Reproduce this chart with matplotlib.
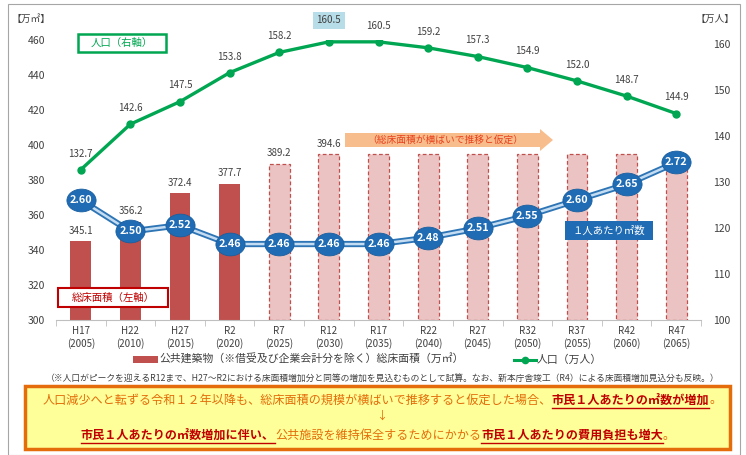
import matplotlib
matplotlib.use("Agg")
import matplotlib.pyplot as plt
import numpy as np
from matplotlib.patches import Rectangle, Polygon
from matplotlib.lines import Line2D
from matplotlib.path import Path
from matplotlib.markers import MarkerStyle

plt.rcParams['font.family'] = ['Noto Sans CJK JP', 'DejaVu Sans']

# ---------------- data ----------------
categories = ["H17\n(2005)", "H22\n(2010)", "H27\n(2015)", "R2\n(2020)", "R7\n(2025)",
              "R12\n(2030)", "R17\n(2035)", "R22\n(2040)", "R27\n(2045)", "R32\n(2050)",
              "R37\n(2055)", "R42\n(2060)", "R47\n(2065)"]
floor_area = [345.1, 356.2, 372.4, 377.7, 389.2, 394.6, 394.6, 394.6, 394.6, 394.6, 394.6, 394.6, 394.6]
floor_labels = ["345.1", "356.2", "372.4", "377.7", "389.2", "394.6", "", "", "", "", "", "", ""]
n_actual = 4
population = [132.7, 142.6, 147.5, 153.8, 158.2, 160.5, 160.5, 159.2, 157.3, 154.9, 152.0, 148.7, 144.9]
per_capita = [2.60, 2.50, 2.52, 2.46, 2.46, 2.46, 2.46, 2.48, 2.51, 2.55, 2.60, 2.65, 2.72]
left_ticks = [300, 320, 340, 360, 380, 400, 420, 440, 460]
right_ticks = [100, 110, 120, 130, 140, 150, 160]

W, H = 746, 455
fig = plt.figure(figsize=(W / 100, H / 100), dpi=100)

def fx(px):
    return px / W

def fy(py):
    return 1 - py / H

TXT = '#404040'
RED = '#C0504D'
PINK = '#EBC3C2'
GREEN = '#00A651'
BLUE = '#1F6CB4'

ax = fig.add_axes([fx(56), fy(320), fx(701) - fx(56), fy(40) - fy(320)])
ax.set_xlim(-0.5, 12.5)
ax.set_ylim(300, 460)
x = np.arange(len(categories))

# bars
bw = 0.42
for i, v in enumerate(floor_area):
    if i < n_actual:
        ax.bar(x[i], v - 300, bottom=300, width=bw, color=RED, zorder=2)
    else:
        ax.bar(x[i], v - 300, bottom=300, width=bw, color=PINK, edgecolor=RED,
               linewidth=0.9, linestyle=(0, (3, 2)), zorder=2)
    if floor_labels[i]:
        ax.annotate(floor_labels[i], (x[i], v), xytext=(0, 4), textcoords='offset points',
                    ha='center', va='bottom', fontsize=7, color=TXT)

for s in ['top', 'left', 'right']:
    ax.spines[s].set_visible(False)
ax.spines['bottom'].set_color('#BFBFBF')
ax.set_yticks(left_ticks)
ax.set_yticklabels([str(t) for t in left_ticks], fontsize=7.5, color=TXT)
ax.tick_params(axis='y', length=0, pad=8)
ax.set_xticks(x)
ax.set_xticklabels(categories, fontsize=7, color=TXT, linespacing=1.3)
ax.tick_params(axis='x', length=0, pad=4)
ax.set_xticks(np.arange(-0.5, 13, 1), minor=True)
ax.tick_params(axis='x', which='minor', length=4, color='#BFBFBF', direction='out')

# population axis
ax2 = ax.twinx()
ax2.set_ylim(100, 160.9)
for s in ['top', 'left', 'right', 'bottom']:
    ax2.spines[s].set_visible(False)
ax2.set_yticks(right_ticks)
ax2.set_yticklabels([str(t) for t in right_ticks], fontsize=7.5, color=TXT)
ax2.tick_params(axis='y', length=0, pad=9)
ax2.plot(x, population, color=GREEN, lw=2.4, marker='o', markersize=5, zorder=3)
for i, v in enumerate(population):
    if i == 5:
        ax2.annotate(f"{v:.1f}", (x[i], v), xytext=(0, 12), textcoords='offset points',
                     ha='center', va='bottom', fontsize=7, color=TXT,
                     bbox=dict(boxstyle='square,pad=0.35', fc='#B7DDE8', ec='none'),
                     annotation_clip=False)
    else:
        ax2.annotate(f"{v:.1f}", (x[i], v), xytext=(0, 8), textcoords='offset points',
                     ha='center', va='bottom', fontsize=7, color=TXT, annotation_clip=False)

# per-capita hidden axis
ax3 = ax.twinx()
ax3.set_ylim(2.218, 3.110)
ax3.axis('off')
ax3.plot(x, per_capita, color='#2E75B6', lw=4.5, zorder=3, solid_capstyle='round')
ax3.plot(x, per_capita, color='#C5DDF2', lw=1.8, zorder=4)
circ = Path.unit_circle()
ell = Path(circ.vertices * np.array([1.0, 0.78]), circ.codes)
ax3.plot(x, per_capita, linestyle='none', marker=MarkerStyle(ell), markersize=21,
         markerfacecolor=BLUE, markeredgecolor='#1A5FA0', markeredgewidth=0.6, zorder=5)
for i, v in enumerate(per_capita):
    ax3.text(x[i], v, f"{v:.2f}", ha='center', va='center', fontsize=7.8,
             color='white', fontweight='bold', zorder=6)

# ---------- annotations in figure pixel space ----------
fig.text(fx(12), fy(19), "【万㎡】", fontsize=7, color=TXT, va='center', ha='left')
fig.text(fx(696), fy(19), "【万人】", fontsize=7, color=TXT, va='center', ha='left')

fig.patches.append(Rectangle((fx(78), fy(52)), fx(166) - fx(78), fy(34) - fy(52),
                             transform=fig.transFigure, fill=False, ec=GREEN, lw=1.8))
fig.text(fx(122), fy(43), "人口（右軸）", fontsize=7.5, color=GREEN, ha='center', va='center')

fig.patches.append(Rectangle((fx(58), fy(307)), fx(168) - fx(58), fy(288) - fy(307),
                             transform=fig.transFigure, fc='white', ec='#C00000', lw=1.5, zorder=5))
fig.text(fx(113), fy(297.5), "総床面積（左軸）", fontsize=7.5, color='#C00000', ha='center',
         va='center', zorder=6)

fig.patches.append(Rectangle((fx(565), fy(240)), fx(653) - fx(565), fy(221) - fy(240),
                             transform=fig.transFigure, fc=BLUE, ec='none', zorder=5))
fig.text(fx(609), fy(230.5), "１人あたり㎡数", fontsize=7.5, color='white', ha='center',
         va='center', zorder=6)

arrow_pts = [(345, 133), (540, 133), (540, 129), (553, 140), (540, 151), (540, 147), (345, 147)]
fig.patches.append(Polygon([(fx(a), fy(b)) for a, b in arrow_pts], closed=True,
                           transform=fig.transFigure, fc='#F8BD8C', ec='none', zorder=1))
fig.text(fx(445), fy(140), "（総床面積が横ばいで推移と仮定）", fontsize=7, color='#E8401C',
         ha='center', va='center', zorder=2)

# legend
fig.patches.append(Rectangle((fx(133), fy(363)), fx(158) - fx(133), fy(356) - fy(363),
                             transform=fig.transFigure, fc=RED, ec='none'))
fig.text(fx(159), fy(359.5), "公共建築物（※借受及び企業会計分を除く）総床面積（万㎡）",
         fontsize=7.8, color=TXT, va='center', ha='left')
fig.lines.append(Line2D([fx(514), fx(536)], [fy(359.5), fy(359.5)], transform=fig.transFigure,
                        color=GREEN, lw=2.2, marker=None))
fig.lines.append(Line2D([fx(525)], [fy(359.5)], transform=fig.transFigure,
                        color=GREEN, marker='o', markersize=4.5, linestyle='none'))
fig.text(fx(537), fy(359.5), "人口（万人）", fontsize=7.8, color=TXT, va='center', ha='left')

fig.text(fx(383), fy(378), "（※人口がピークを迎えるR12まで、H27～R2における床面積増加分と同等の増加を"
         "見込むものとして試算。なお、新本庁舎竣工（R4）による床面積増加見込分も反映。）",
         fontsize=6.3, color=TXT, ha='center', va='center')

# outer frame
fig.patches.append(Rectangle((fx(8), fy(455)), fx(740) - fx(8), fy(4) - fy(455),
                             transform=fig.transFigure, fill=False, ec='#A6A6A6', lw=0.8))

# bottom box
fig.patches.append(Rectangle((fx(25), fy(449)), fx(730) - fx(25), fy(386) - fy(449),
                             transform=fig.transFigure, fc='#FFFF99', ec='#E46C0A', lw=2.5))

ORANGE_T = '#E36C09'
DRED = '#C00000'
renderer = fig.canvas.get_renderer()

def seg_line(segments, cx, cy, fs):
    texts = []
    total = 0
    for s, bold in segments:
        t = fig.text(0, fy(cy), s, fontsize=fs, color=DRED if bold else ORANGE_T,
                     fontweight='bold' if bold else 'normal', va='center', ha='left')
        bb = t.get_window_extent(renderer=renderer)
        texts.append((t, bb.width, bold))
        total += bb.width
    pos = cx - total / 2
    for t, w, bold in texts:
        t.set_x(fx(pos))
        if bold:
            fig.lines.append(Line2D([fx(pos), fx(pos + w)], [fy(cy + 7.5), fy(cy + 7.5)],
                                    transform=fig.transFigure, color=DRED, lw=1.0))
        pos += w

seg_line([("人口減少へと転ずる令和１２年以降も、総床面積の規模が横ばいで推移すると仮定した場合、", False),
          ("市民１人あたりの㎡数が増加", True), ("。", False)], 382, 400, 8.7)
fig.text(fx(382), fy(416), "↓", fontsize=8, color=ORANGE_T, ha='center', va='center')
seg_line([("市民１人あたりの㎡数増加に伴い、", True), ("公共施設を維持保全するためにかかる", False),
          ("市民１人あたりの費用負担も増大", True), ("。", False)], 378, 435, 8.7)

fig.savefig("out.png", dpi=100)
